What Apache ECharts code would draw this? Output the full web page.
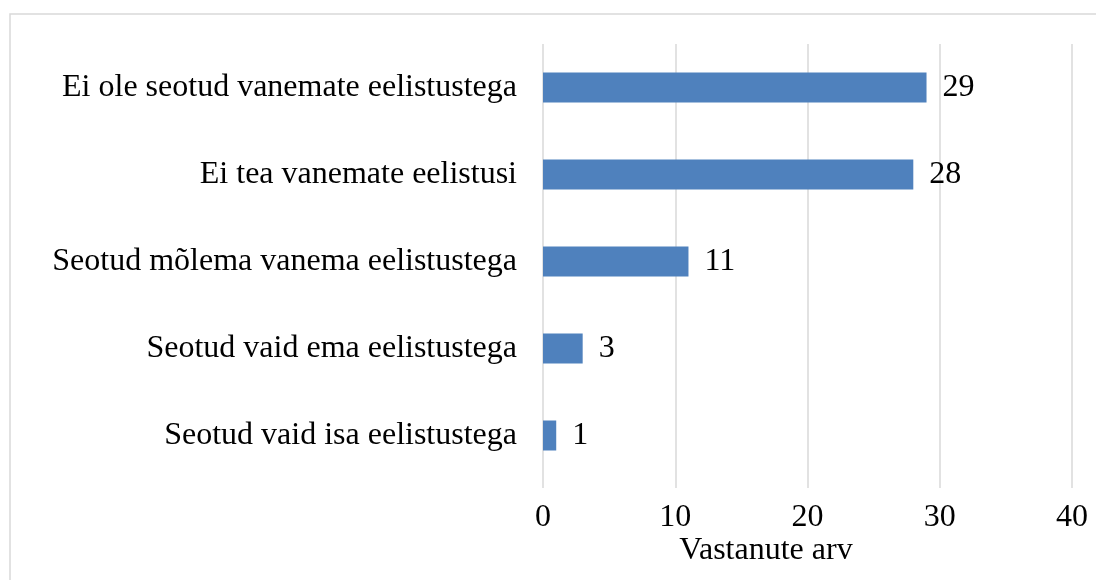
<!DOCTYPE html>
<html>
<head>
<meta charset="utf-8">
<script src="https://cdn.jsdelivr.net/npm/echarts@6/dist/echarts.min.js"></script>
<style>
  html, body { margin: 0; padding: 0; background: #fff; }
  #chart { width: 1096px; height: 580px; }
</style>
</head>
<body>
<div id="chart"></div>
<script>
const categories = [
  'Ei ole seotud vanemate eelistustega',
  'Ei tea vanemate eelistusi',
  'Seotud mõlema vanema eelistustega',
  'Seotud vaid ema eelistustega',
  'Seotud vaid isa eelistustega'
]
const values = [29, 28, 11, 3, 1]
const axisTitle = 'Vastanute arv'

const font = '"Liberation Serif", "Times New Roman", serif'
const myChart = echarts.init(document.getElementById('chart'))

const option = {
  animation: false,
  grid: {
    left: 543,
    top: 44,
    width: 529,
    height: 435
  },
  graphic: [
    {
      type: 'rect',
      shape: { x: 10, y: 14, width: 1200, height: 700 },
      style: { fill: 'none', stroke: '#d9d9d9', lineWidth: 1.5 },
      silent: true
    },
    {
      type: 'text',
      x: 766,
      y: 551,
      style: {
        text: axisTitle,
        font: '32px ' + font,
        fill: '#000',
        align: 'center',
        verticalAlign: 'middle'
      }
    }
  ],
  xAxis: {
    type: 'value',
    min: 0,
    max: 40,
    interval: 10,
    axisLine: { show: false },
    axisTick: { show: true, length: 9, lineStyle: { color: '#d9d9d9', width: 1.5 } },
    splitLine: { lineStyle: { color: '#d9d9d9', width: 1.5 } },
    axisLabel: {
      margin: 23,
      color: '#000',
      fontFamily: font,
      fontSize: 32
    }
  },
  yAxis: {
    type: 'category',
    inverse: true,
    data: categories,
    axisLine: { show: false },
    axisTick: { show: false },
    axisLabel: {
      margin: 26,
      color: '#000',
      fontFamily: font,
      fontSize: 32
    }
  },
  series: [
    {
      type: 'bar',
      data: values,
      barWidth: 30,
      itemStyle: { color: '#4f81bd' },
      label: {
        show: true,
        position: 'right',
        distance: 16,
        color: '#000',
        fontFamily: font,
        fontSize: 32
      }
    }
  ]
}
myChart.setOption(option)
</script>
</body>
</html>
